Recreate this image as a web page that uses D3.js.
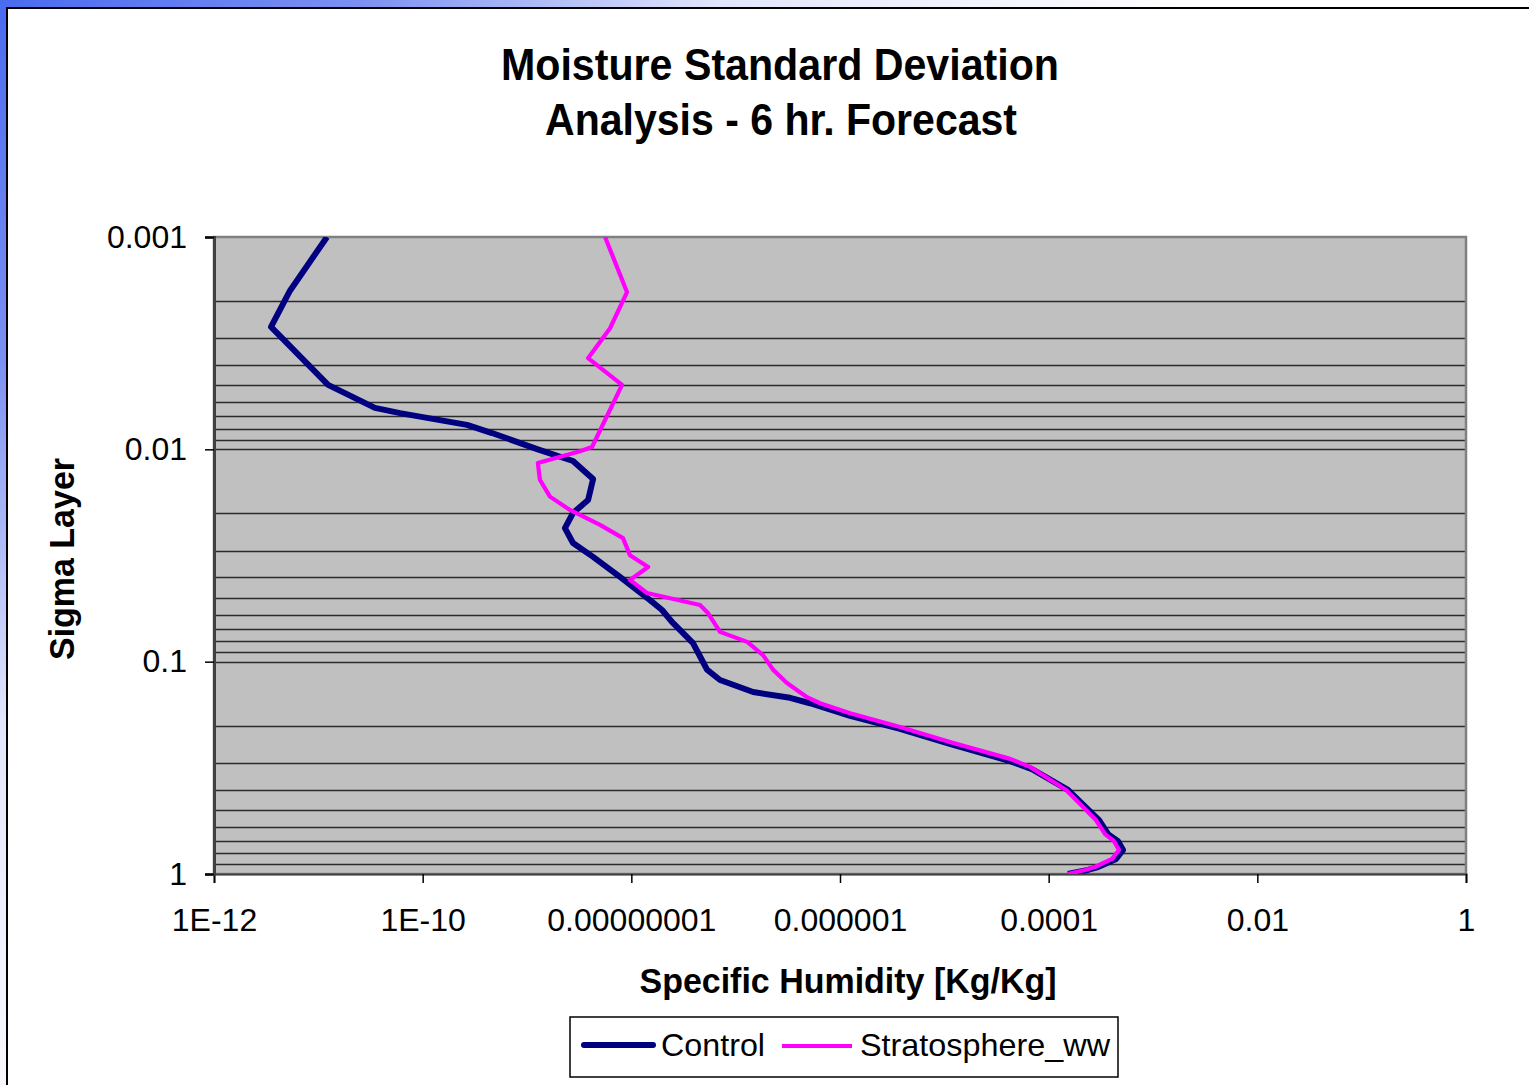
<!DOCTYPE html>
<html>
<head>
<meta charset="utf-8">
<script src="https://cdn.jsdelivr.net/npm/d3@7"></script>
<style>
  html, body { margin: 0; padding: 0; background: #fff; }
  svg { display: block; }
  text { font-family: "Liberation Sans", Arial, sans-serif; fill: #000; }
</style>
</head>
<body>
<svg id="chart" width="1529" height="1085"></svg>
<script>
// ---- Data ----
const titleLines = ["Moisture Standard Deviation", "Analysis - 6 hr. Forecast"];
const xAxisTitle = "Specific Humidity [Kg/Kg]";
const yAxisTitle = "Sigma Layer";
const seriesNames = ["Control", "Stratosphere_ww"];

const xTickValues = [1e-12, 1e-10, 1e-8, 1e-6, 1e-4, 1e-2, 1];
const xTickLabels = ["1E-12", "1E-10", "0.00000001", "0.000001", "0.0001", "0.01", "1"];
const yTickValues = [0.001, 0.01, 0.1, 1];
const yTickLabels = ["0.001", "0.01", "0.1", "1"];

// Control series: sigma level and specific humidity std. dev.
const controlSigma = [0.001, 0.00179, 0.00265, 0.00497, 0.00638, 0.00675, 0.00767, 0.00838, 0.0100, 0.01135,
  0.0138, 0.01734, 0.01995, 0.0235, 0.0276, 0.0321, 0.0399, 0.0513, 0.0571, 0.0650,
  0.0817, 0.0982, 0.109, 0.122, 0.139, 0.148, 0.157, 0.180, 0.207, 0.244,
  0.294, 0.321, 0.402, 0.557, 0.649, 0.700, 0.771, 0.849, 0.927, 0.957, 1.0];
const controlValues = [1.21e-11, 5.35e-12, 3.52e-12, 1.24e-11, 3.49e-11, 6.07e-11, 2.66e-10, 4.62e-10, 1.27e-9, 2.76e-9,
  4.30e-9, 3.85e-9, 2.76e-9, 2.31e-9, 2.76e-9, 4.30e-9, 7.78e-9, 1.51e-8, 1.97e-8, 2.45e-8,
  3.90e-8, 4.75e-8, 5.31e-8, 7.08e-8, 1.47e-7, 3.32e-7, 5.16e-7, 1.25e-6, 3.76e-6, 1.13e-5,
  4.27e-5, 6.92e-5, 1.53e-4, 3.04e-4, 3.71e-4, 4.62e-4, 5.16e-4, 4.43e-4, 2.97e-4, 2.38e-4, 1.53e-4];

// Stratosphere_ww series
const stratSigma = [0.001, 0.00182, 0.00269, 0.00372, 0.00497, 0.00975, 0.0102, 0.0116, 0.0139, 0.0167,
  0.0193, 0.0227, 0.0262, 0.0315, 0.0358, 0.0412, 0.0475, 0.0541, 0.0590, 0.0724,
  0.0807, 0.0931, 0.109, 0.126, 0.147, 0.157, 0.175, 0.203, 0.239, 0.287,
  0.313, 0.402, 0.557, 0.649, 0.700, 0.771, 0.849, 0.927, 0.957, 1.0];
const stratValues = [5.60e-9, 9.10e-9, 6.25e-9, 3.85e-9, 8.15e-9, 4.20e-9, 3.22e-9, 1.27e-9, 1.33e-9, 1.66e-9,
  2.58e-9, 5.01e-9, 8.32e-9, 9.70e-9, 1.45e-8, 9.70e-9, 1.41e-8, 4.55e-8, 5.43e-8, 7.08e-8,
  1.29e-7, 1.83e-7, 2.28e-7, 3.10e-7, 4.83e-7, 6.43e-7, 1.25e-6, 3.76e-6, 1.13e-5, 4.27e-5,
  6.62e-5, 1.47e-4, 2.84e-4, 3.47e-4, 4.23e-4, 4.72e-4, 4.05e-4, 2.78e-4, 2.23e-4, 1.53e-4];

// Minor gridline multipliers per decade
const gridMultipliers = [2, 3, 4, 5, 6, 7, 8, 9];

// ---- Drawing ----
const svg = d3.select("#chart");
const W = 1529, H = 1085;
const plot = { left: 214, top: 237, right: 1466, bottom: 874 };

// Slide background gradient
const defs = svg.append("defs");
const grad = defs.append("radialGradient").attr("id", "bg")
  .attr("gradientUnits", "userSpaceOnUse").attr("cx", 0).attr("cy", 0).attr("r", 1200);
[[0, "#4a6bf0"], [0.3, "#7b90f2"], [0.6, "#e2e6fb"], [1, "#ffffff"]].forEach(([o, c]) =>
  grad.append("stop").attr("offset", o).attr("stop-color", c));
svg.append("rect").attr("width", W).attr("height", H).attr("fill", "url(#bg)");

// Chart frame
svg.append("rect").attr("x", 7).attr("y", 8).attr("width", W + 20).attr("height", H + 20)
  .attr("fill", "#fff").attr("stroke", "#000").attr("stroke-width", 2);

const x = d3.scaleLog().domain([1e-12, 1]).range([plot.left, plot.right]);
const y = d3.scaleLog().domain([0.001, 1]).range([plot.top, plot.bottom]);

// Plot area background
svg.append("rect").attr("x", plot.left).attr("y", plot.top)
  .attr("width", plot.right - plot.left).attr("height", plot.bottom - plot.top)
  .attr("fill", "#c0c0c0");

// Horizontal gridlines (major + minor)
const gridVals = [];
[0.001, 0.01, 0.1].forEach(d => gridMultipliers.forEach(m => gridVals.push(d * m)));
gridVals.push(0.01, 0.1);
svg.append("g").selectAll("line").data(gridVals).join("line")
  .attr("x1", plot.left).attr("x2", plot.right)
  .attr("y1", d => Math.round(y(d)) + 0.5).attr("y2", d => Math.round(y(d)) + 0.5)
  .attr("stroke", "#2a2a2a").attr("stroke-width", 1.6);

// Plot border
svg.append("rect").attr("x", plot.left).attr("y", plot.top)
  .attr("width", plot.right - plot.left).attr("height", plot.bottom - plot.top)
  .attr("fill", "none").attr("stroke", "#808080").attr("stroke-width", 2.5);

// Axes
const xAxis = d3.axisBottom(x).tickValues(xTickValues)
  .tickFormat((d, i) => xTickLabels[i]).tickSize(9).tickPadding(25);
const gx = svg.append("g").attr("transform", `translate(0,${plot.bottom})`).call(xAxis);
gx.select(".domain").attr("stroke", "#404040").attr("stroke-width", 2);
gx.selectAll(".tick line").attr("stroke", "#000").attr("stroke-width", 1.5);
gx.selectAll(".tick text").style("font-family", '"Liberation Sans", Arial, sans-serif')
  .style("font-size", "32px").attr("fill", "#000");

const yAxis = d3.axisLeft(y).tickValues(yTickValues)
  .tickFormat((d, i) => yTickLabels[i]).tickSize(9).tickPadding(18);
const gy = svg.append("g").attr("transform", `translate(${plot.left},0)`).call(yAxis);
gy.select(".domain").attr("stroke", "#404040").attr("stroke-width", 3);
gy.selectAll(".tick line").attr("stroke", "#000").attr("stroke-width", 1.5);
gy.selectAll(".tick text").style("font-family", '"Liberation Sans", Arial, sans-serif')
  .style("font-size", "32px").attr("fill", "#000");

// Series lines
defs.append("clipPath").attr("id", "plotClip").append("rect")
  .attr("x", plot.left).attr("y", plot.top)
  .attr("width", plot.right - plot.left).attr("height", plot.bottom - plot.top);

const line = d3.line().x(d => x(d[0])).y(d => y(d[1]));
const controlData = controlValues.map((v, i) => [v, controlSigma[i]]);
const stratData = stratValues.map((v, i) => [v, stratSigma[i]]);

const lines = svg.append("g").attr("clip-path", "url(#plotClip)");
lines.append("path").datum(controlData).attr("d", line)
  .attr("fill", "none").attr("stroke", "#000080").attr("stroke-width", 6)
  .attr("stroke-linejoin", "round");
lines.append("path").datum(stratData).attr("d", line)
  .attr("fill", "none").attr("stroke", "#ff00ff").attr("stroke-width", 4.2)
  .attr("stroke-linejoin", "round");

// Titles
svg.append("text").attr("x", 780).attr("y", 80).attr("text-anchor", "middle")
  .attr("font-weight", "bold").attr("font-size", 44)
  .attr("textLength", 558).attr("lengthAdjust", "spacingAndGlyphs").text(titleLines[0]);
svg.append("text").attr("x", 781).attr("y", 135).attr("text-anchor", "middle")
  .attr("font-weight", "bold").attr("font-size", 44)
  .attr("textLength", 472).attr("lengthAdjust", "spacingAndGlyphs").text(titleLines[1]);

svg.append("text").attr("x", 848).attr("y", 993).attr("text-anchor", "middle")
  .attr("font-weight", "bold").attr("font-size", 35)
  .attr("textLength", 417).attr("lengthAdjust", "spacingAndGlyphs").text(xAxisTitle);

svg.append("text").attr("transform", "translate(74,559) rotate(-90)").attr("text-anchor", "middle")
  .attr("font-weight", "bold").attr("font-size", 35)
  .attr("textLength", 202).attr("lengthAdjust", "spacingAndGlyphs").text(yAxisTitle);

// Legend
const lg = svg.append("g");
lg.append("rect").attr("x", 570).attr("y", 1017).attr("width", 548).attr("height", 60)
  .attr("fill", "#fff").attr("stroke", "#000").attr("stroke-width", 1.5);
lg.append("line").attr("x1", 584).attr("x2", 653).attr("y1", 1045).attr("y2", 1045)
  .attr("stroke", "#000080").attr("stroke-width", 6).attr("stroke-linecap", "round");
lg.append("text").attr("x", 661).attr("y", 1056).attr("font-size", 32)
  .attr("textLength", 104).attr("lengthAdjust", "spacingAndGlyphs").text(seriesNames[0]);
lg.append("line").attr("x1", 782).attr("x2", 852).attr("y1", 1046).attr("y2", 1046)
  .attr("stroke", "#ff00ff").attr("stroke-width", 4.2);
lg.append("text").attr("x", 860).attr("y", 1056).attr("font-size", 32)
  .attr("textLength", 250).attr("lengthAdjust", "spacingAndGlyphs").text(seriesNames[1]);
</script>
</body>
</html>
